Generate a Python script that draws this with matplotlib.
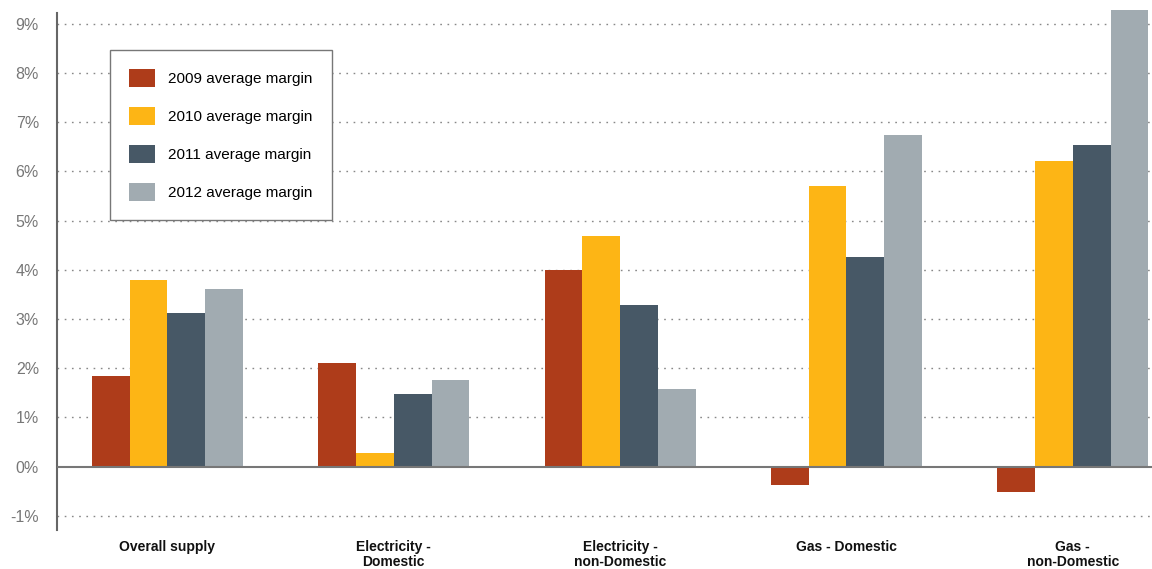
import numpy as np
from matplotlib import pyplot as plt

plt.rcParams['font.family'] = ['Liberation Sans', 'DejaVu Sans']

# Average margin by supply type (percent)
categories = ["Overall supply", "Electricity -\nDomestic", "Electricity -\nnon-Domestic",
              "Gas - Domestic", "Gas -\nnon-Domestic"]
m2009 = [1.84, 2.11, 4.00, -0.38, -0.51]
m2010 = [3.80, 0.28, 4.69, 5.70, 6.21]
m2011 = [3.12, 1.48, 3.29, 4.25, 6.54]
m2012 = [3.60, 1.76, 1.58, 6.74, 9.28]
series_labels = ["2009 average margin", "2010 average margin",
                 "2011 average margin", "2012 average margin"]
yticks = [-1, 0, 1, 2, 3, 4, 5, 6, 7, 8, 9]

colors = ['#ae3c1a', '#fdb515', '#475866', '#a1abb1']

fig = plt.figure(figsize=(11.52, 5.69), dpi=100)
ax = fig.add_axes([57/1152, 1 - 530/569, 1 - 57/1152, (530 - 13)/569])

x = np.arange(len(categories))
w = 0.167
for i, (vals, lab) in enumerate(zip([m2009, m2010, m2011, m2012], series_labels)):
    ax.bar(x + (i - 1.5) * w, vals, w, color=colors[i], label=lab, zorder=3, clip_on=False)

ax.set_xlim(-0.488, 4.35)
ax.set_ylim(-1.29, 9.22)
ax.set_yticks(yticks)
ax.set_yticklabels([f"{t}%" for t in yticks], color='#777777', fontsize=11.5)
ax.tick_params(axis='y', length=0, pad=13)
ax.set_xticks([])

for t in yticks:
    if t != 0:
        ax.axhline(t, color='#888888', linestyle=(0, (1.2, 4)), linewidth=1, zorder=1)
ax.axhline(0, color='#777777', linewidth=1.5, zorder=4)

for s in ['top', 'right', 'bottom']:
    ax.spines[s].set_visible(False)
ax.spines['left'].set_color('#666666')
ax.spines['left'].set_linewidth(1.5)

for xi, c in zip(x, categories):
    ax.text(xi, -1.49, c, ha='center', va='top', fontsize=10, fontweight='bold',
            color='#111111', linespacing=1.1)

leg = ax.legend(loc='upper left', bbox_to_anchor=(110/1152, 1 - 50/569),
                bbox_transform=fig.transFigure, borderaxespad=0, fancybox=False,
                edgecolor='#777777', framealpha=1, fontsize=11, handlelength=1.7,
                handleheight=1.45, labelspacing=1.3, borderpad=1.25, handletextpad=0.85)
leg.get_frame().set_linewidth(1)
leg.set_zorder(5)

plt.savefig("out.png", dpi=100)
